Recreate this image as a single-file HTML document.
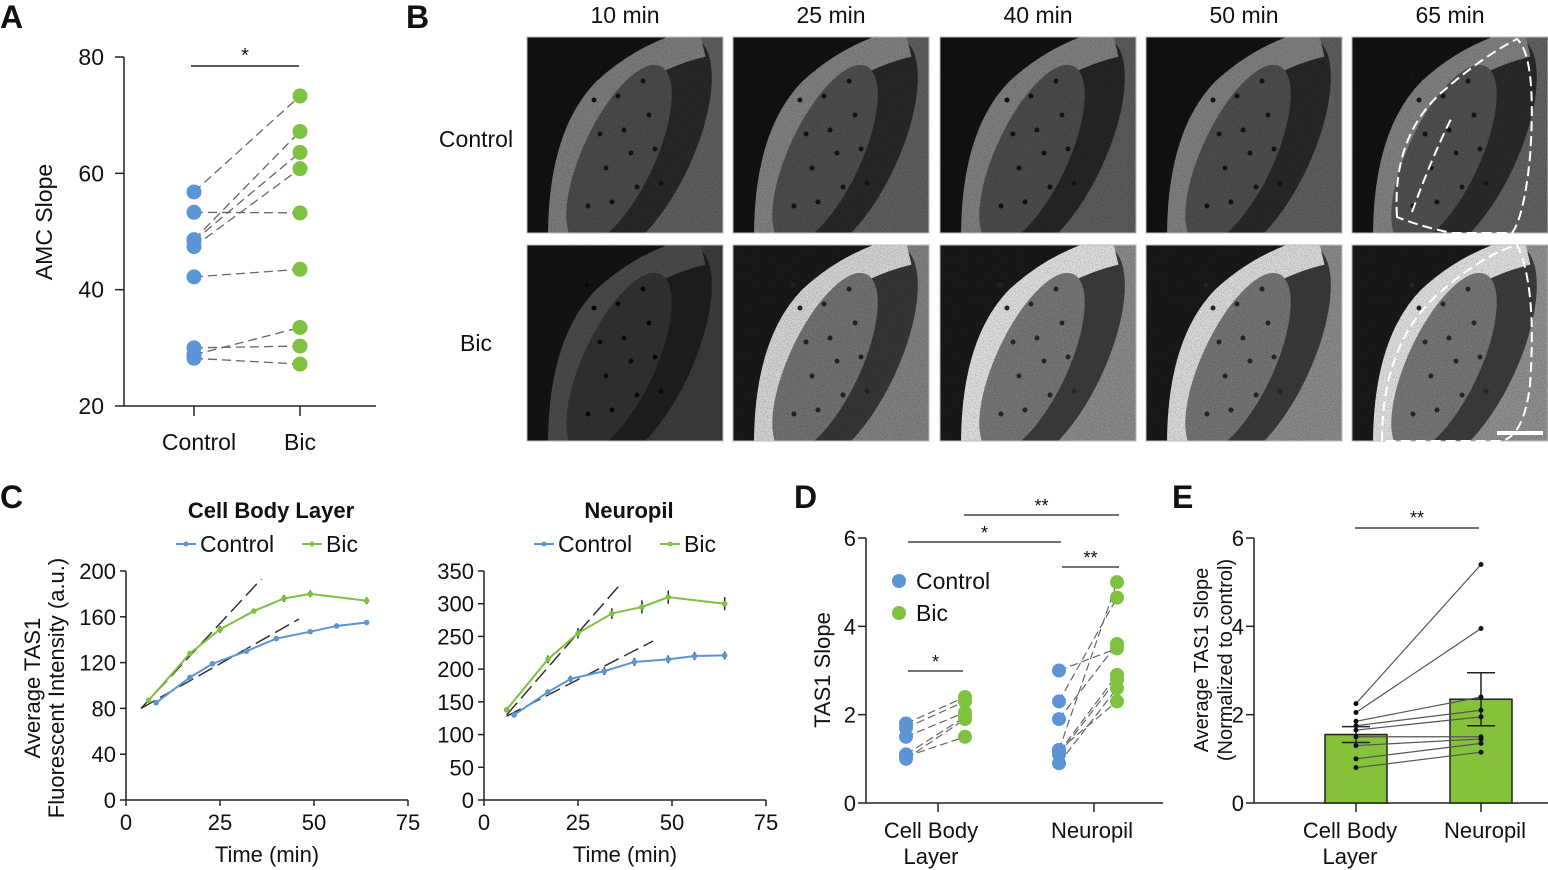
<!DOCTYPE html>
<html><head><meta charset="utf-8">
<style>
html,body{margin:0;padding:0;background:#fff;}
svg{display:block;font-family:"Liberation Sans",Arial,sans-serif;}
</style></head>
<body>
<svg id="fig" width="1548" height="870" viewBox="0 0 1548 870" xmlns="http://www.w3.org/2000/svg">
<defs>
<filter id="noise" x="0" y="0" width="100%" height="100%">
<feTurbulence type="fractalNoise" baseFrequency="0.9" numOctaves="2" seed="3"/>
<feColorMatrix type="matrix" values="0 0 0 0 0  0 0 0 0 0  0 0 0 0 0  0 0 0 0.9 -0.35"/>
</filter>
</defs>
<g font-weight="bold" font-size="32" fill="#111">
<text x="0" y="28">A</text>
<text x="406" y="28">B</text>
<text x="0" y="508">C</text>
<text x="794" y="508">D</text>
<text x="1172" y="508">E</text>
</g>
<g id="gA"></g>
<g id="gB"></g>
<g id="gC1"></g>
<g id="gC2"></g>
<g id="gD"></g>
<g id="gE"></g>
</svg>
<script>
// ---- data ----
const aControl = [56.8, 48.6, 48.4, 47.4, 53.3, 42.2, 28.8, 30.0, 28.2];
const aBic = [73.3, 67.2, 63.6, 60.8, 53.2, 43.5, 33.5, 30.3, 27.2];
const aTicks = [20, 40, 60, 80];

const cTimeCtl = [8, 17, 23, 32, 40, 49, 56, 64];
const cTimeBic = [6, 17, 25, 34, 42, 49, 64];
const c1Ctl = [85, 107, 119, 130, 141, 147, 152, 155];
const c1Bic = [87, 128, 149, 165, 176, 180, 174];
const c1Err = [2, 2, 3, 2, 3, 3, 3];
const c2Ctl = [130, 165, 185, 197, 211, 215, 220, 221];
const c2Bic = [138, 215, 255, 285, 295, 310, 300];
const c2Err = [4, 6, 8, 8, 10, 10, 10];
const c2CtlErr = [4, 4, 5, 6, 6, 6, 6, 6];
const c1Ticks = [0, 40, 80, 120, 160, 200];
const c2Ticks = [0, 50, 100, 150, 200, 250, 300, 350];
const xTicks = [0, 25, 50, 75];

const dCbCtl = [1.8, 1.7, 1.5, 1.1, 1.05, 1.0];
const dCbBic = [2.4, 2.3, 2.05, 1.95, 1.5, 1.9];
const dNpCtl = [3.0, 2.3, 1.9, 1.15, 1.1, 0.9, 1.2, 1.2];
const dNpBic = [3.5, 4.65, 3.6, 2.9, 2.8, 2.6, 5.0, 2.3];
const dTicks = [0, 2, 4, 6];

const eMeans = [1.55, 2.35];
const eSem = [0.18, 0.6];
const eCb = [2.25, 2.05, 1.85, 1.75, 1.65, 1.5, 1.3, 1.0, 0.8];
const eNp = [5.4, 3.95, 2.4, 2.1, 1.95, 1.5, 1.45, 1.35, 1.15];
const eCats = ["Cell Body", "Neuropil"];

const timeLabels = ["10 min", "25 min", "40 min", "50 min", "65 min"];

const BLUE = "#5b95d6", GREEN = "#7fc241";
const NS = "http://www.w3.org/2000/svg";
function mk(parent, tag, attrs, text) {
  const e = document.createElementNS(NS, tag);
  for (const k in attrs) e.setAttribute(k, attrs[k]);
  if (text !== undefined) e.textContent = text;
  parent.appendChild(e);
  return e;
}
function txt(p, x, y, s, size, anchor, name, extra) {
  const t = mk(p, "text", Object.assign({x: x, y: y, "font-size": size, "text-anchor": anchor || "middle", fill: "#111"}, extra || {}), s);
  
  
  return t;
}
function ln(p, x1, y1, x2, y2, stroke, w, dash, name) {
  const l = mk(p, "line", {x1: x1, y1: y1, x2: x2, y2: y2, stroke: stroke, "stroke-width": w});
  if (dash) l.setAttribute("stroke-dasharray", dash);
  
  
  return l;
}
function dot(p, x, y, r, fill, name) {
  const c = mk(p, "circle", {cx: x, cy: y, r: r, fill: fill});
  
  
  return c;
}

// ---- Panel A ----
(function () {
  const g = document.getElementById("gA");
  const y = v => 406 - (v - 20) * (349 / 60);
  const xC = 194, xB = 300;
  ln(g, 124, 57, 124, 406, "#222", 1.5, null, "a-y-axis");
  ln(g, 124, 406, 376, 406, "#222", 1.5, null, "a-x-axis");
  aTicks.forEach(t => {
    ln(g, 115, y(t), 124, y(t), "#222", 1.5, null, "a-y-tick");
    txt(g, 104, y(t) + 8, String(t), 23, "end", "a-y-tick-label");
  });
  ln(g, xC, 406, xC, 416, "#222", 1.5, null, "a-x-tick");
  ln(g, xB, 406, xB, 416, "#222", 1.5, null, "a-x-tick");
  txt(g, xC + 5, 450, "Control", 23, "middle", "a-x-label-control");
  txt(g, xB, 450, "Bic", 23, "middle", "a-x-label-bic");
  txt(g, 52, 222, "AMC Slope", 23, "middle", "a-y-axis-title", {transform: "rotate(-90 52 222)"});
  ln(g, 191, 66, 299, 66, "#222", 1.5, null, "a-significance-bar");
  txt(g, 245, 62, "*", 20, "middle", "a-significance-star");
  aControl.forEach((v, i) => ln(g, xC, y(v), xB, y(aBic[i]), "#666", 1.3, "9,5", "a-pair-line"));
  aControl.forEach(v => dot(g, xC, y(v), 7.5, BLUE, "a-control-point"));
  aBic.forEach(v => dot(g, xB, y(v), 7.5, GREEN, "a-bic-point"));
})();

// ---- Panel B ----
(function () {
  const g = document.getElementById("gB");
  const xs = [527, 733, 940, 1146, 1352];
  const ys = [37, 245];
  const W = 196, H = 196;
  const bright = [
    [[95, 40, 125, 75, 18], [95, 40, 130, 78, 18], [92, 38, 128, 76, 18], [95, 40, 128, 78, 18], [98, 42, 130, 80, 18]],
    [[60, 30, 75, 50, 20], [130, 55, 215, 115, 25], [140, 60, 225, 120, 25], [140, 58, 220, 118, 25], [145, 60, 225, 120, 25]]
  ];
  const gray = v => `rgb(${v},${v},${v})`;
  timeLabels.forEach((t, i) => txt(g, xs[i] + W / 2, 23, t, 23, "middle", "b-time-label"));
  txt(g, 476, 147, "Control", 23, "middle", "b-row-label-control");
  txt(g, 476, 351, "Bic", 23, "middle", "b-row-label-bic");
  ys.forEach((y0, r) => xs.forEach((x0, c) => {
    const [gr, gd, gb, gm, gk] = bright[r][c];
    const im = mk(g, "g", {transform: `translate(${x0},${y0})`});
    
    
    const cp = "clip" + r + c;
    const cl = mk(im, "clipPath", {id: cp});
    mk(cl, "rect", {x: 0, y: 0, width: W, height: H});
    const inner = mk(im, "g", {"clip-path": `url(#${cp})`});
    mk(inner, "rect", {x: 0, y: 0, width: W, height: H, fill: gray(gr)});
    mk(inner, "ellipse", {cx: 118, cy: 110, rx: 48, ry: 120, fill: gray(gd), transform: "rotate(25 118 110)"});
    mk(inner, "path", {d: "M0,0 L160,0 Q80,20 50,70 Q25,120 22,196 L0,196 Z", fill: gray(gk)});
    mk(inner, "path", {d: "M36,200 Q36,100 80,55 Q120,18 175,5", stroke: gray(gb), "stroke-width": 30, fill: "none"});
    mk(inner, "ellipse", {cx: 92, cy: 118, rx: 36, ry: 98, fill: gray(gm), transform: "rotate(25 92 118)"});
    for (let k = 0; k < 14; k++) {
      mk(inner, "circle", {cx: 60 + (k * 37) % 80, cy: 40 + (k * 53) % 140, r: 2.5, fill: gray(Math.max(0, gd - 20))});
    }
    mk(inner, "rect", {x: 0, y: 0, width: W, height: H, filter: "url(#noise)", opacity: 0.6});
    mk(im, "rect", {x: 0, y: 0, width: W, height: H, fill: "none", stroke: "#bbb", "stroke-width": 1});
    if (c === 4) {
      const o = mk(im, "path", {d: r === 0 ? "M45,180 Q40,100 90,55 Q130,20 165,2 Q185,20 178,120 Q172,180 160,196 L100,196 Q70,190 45,180 Z M60,175 Q80,120 100,80" : "M30,196 Q30,100 85,50 Q130,10 165,0 Q185,40 178,140 Q172,190 150,196 Z", stroke: "#fff", "stroke-width": 2, fill: "none", "stroke-dasharray": "10,5"});
      
      
    }
  }));
  const sb = mk(g, "rect", {x: 1497, y: 431, width: 46, height: 4, fill: "#fff"});
  
  
})();

// ---- Panel C ----
function lineChart(gid, title, x0, ctl, bic, bicErr, ctlErr, ticks, ymax, dashB, dashC) {
  const g = document.getElementById(gid);
  const xs = t => x0 + t * (282 / 75);
  const ys = v => 800 - v * ((800 - 571) / ymax);
  txt(g, x0 + 145, 518, title, 22, "middle", "c-title", {"font-weight": "bold"});
  ln(g, x0 + 50, 544, x0 + 70, 544, BLUE, 2, null, "c-legend-line-control");
  dot(g, x0 + 60, 544, 2.5, BLUE, "c-legend-marker-control");
  txt(g, x0 + 74, 552, "Control", 23, "start", "c-legend-control");
  ln(g, x0 + 176, 544, x0 + 196, 544, GREEN, 2, null, "c-legend-line-bic");
  dot(g, x0 + 186, 544, 2.5, GREEN, "c-legend-marker-bic");
  txt(g, x0 + 200, 552, "Bic", 23, "start", "c-legend-bic");
  ln(g, x0, ys(ymax), x0, 800, "#222", 1.5, null, "c-y-axis");
  ln(g, x0, 800, x0 + 282, 800, "#222", 1.5, null, "c-x-axis");
  ticks.forEach(t => {
    ln(g, x0 - 6, ys(t), x0, ys(t), "#222", 1.5, null, "c-y-tick");
    txt(g, x0 - 10, ys(t) + 8, String(t), 22, "end", "c-y-tick-label");
  });
  xTicks.forEach(t => {
    ln(g, xs(t), 800, xs(t), 806, "#222", 1.5, null, "c-x-tick");
    txt(g, xs(t), 830, String(t), 22, "middle", "c-x-tick-label");
  });
  txt(g, x0 + 141, 862, "Time (min)", 22, "middle", "c-x-axis-title");
  ln(g, xs(dashB[0]), ys(dashB[1]), xs(dashB[2]), ys(dashB[3]), "#333", 1.5, "16,6", "c-fit-line-bic");
  ln(g, xs(dashC[0]), ys(dashC[1]), xs(dashC[2]), ys(dashC[3]), "#333", 1.5, "16,6", "c-fit-line-control");
  const pc = mk(g, "polyline", {points: cTimeCtl.map((t, i) => xs(t) + "," + ys(ctl[i])).join(" "), fill: "none", stroke: BLUE, "stroke-width": 2});
  
  
  const pb = mk(g, "polyline", {points: cTimeBic.map((t, i) => xs(t) + "," + ys(bic[i])).join(" "), fill: "none", stroke: GREEN, "stroke-width": 2});
  
  
  cTimeCtl.forEach((t, i) => {
    const e = ctlErr ? ctlErr[i] : 1.5;
    ln(g, xs(t), ys(ctl[i] - e), xs(t), ys(ctl[i] + e), "#222", 1.5, null, "c-control-error");
    dot(g, xs(t), ys(ctl[i]), 2.8, BLUE, "c-control-point");
  });
  cTimeBic.forEach((t, i) => {
    ln(g, xs(t), ys(bic[i] - bicErr[i]), xs(t), ys(bic[i] + bicErr[i]), "#222", 1.5, null, "c-bic-error");
    dot(g, xs(t), ys(bic[i]), 2.8, GREEN, "c-bic-point");
  });
}
lineChart("gC1", "Cell Body Layer", 126, c1Ctl, c1Bic, c1Err, null, c1Ticks, 200, [4, 80, 36, 193], [4, 80, 46, 158]);
lineChart("gC2", "Neuropil", 484, c2Ctl, c2Bic, c2Err, c2CtlErr, c2Ticks, 350, [6, 130, 36, 328], [6, 128, 45, 243]);
(function () {
  const g = document.getElementById("gC1");
  txt(g, 40, 688, "Average TAS1", 22, "middle", "c-y-axis-title-line1", {transform: "rotate(-90 40 688)"});
  txt(g, 64, 688, "Fluorescent Intensity (a.u.)", 22, "middle", "c-y-axis-title-line2", {transform: "rotate(-90 64 688)"});
})();

// ---- Panel D ----
(function () {
  const g = document.getElementById("gD");
  const y = v => 803 - v * (265 / 6);
  const X = [906, 965, 1059, 1117];
  ln(g, 866, 538, 866, 803, "#222", 1.5, null, "d-y-axis");
  ln(g, 866, 803, 1163, 803, "#222", 1.5, null, "d-x-axis");
  dTicks.forEach(t => {
    ln(g, 858, y(t), 866, y(t), "#222", 1.5, null, "d-y-tick");
    txt(g, 856, y(t) + 8, String(t), 22, "end", "d-y-tick-label");
  });
  ln(g, 938, 803, 938, 812, "#222", 1.5, null, "d-x-tick");
  ln(g, 1094, 803, 1094, 812, "#222", 1.5, null, "d-x-tick");
  txt(g, 931, 838, "Cell Body", 22, "middle", "d-x-label-cell-body");
  txt(g, 931, 864, "Layer", 22, "middle", "d-x-label-layer");
  txt(g, 1092, 838, "Neuropil", 22, "middle", "d-x-label-neuropil");
  txt(g, 830, 670, "TAS1 Slope", 22, "middle", "d-y-axis-title", {transform: "rotate(-90 830 670)"});
  dot(g, 899, 581, 7, BLUE, "d-legend-marker-control");
  txt(g, 916, 589, "Control", 23, "start", "d-legend-control");
  dot(g, 899, 613, 7, GREEN, "d-legend-marker-bic");
  txt(g, 916, 621, "Bic", 23, "start", "d-legend-bic");
  dCbCtl.forEach((v, i) => ln(g, X[0], y(v), X[1], y(dCbBic[i]), "#666", 1.2, "8,4", "d-pair-line-cb"));
  dNpCtl.forEach((v, i) => ln(g, X[2], y(v), X[3], y(dNpBic[i]), "#666", 1.2, "8,4", "d-pair-line-np"));
  dCbCtl.forEach(v => dot(g, X[0], y(v), 7, BLUE, "d-cb-control-point"));
  dCbBic.forEach(v => dot(g, X[1], y(v), 7, GREEN, "d-cb-bic-point"));
  dNpCtl.forEach(v => dot(g, X[2], y(v), 7, BLUE, "d-np-control-point"));
  dNpBic.forEach(v => dot(g, X[3], y(v), 7, GREEN, "d-np-bic-point"));
  const bars = [[908, 963, 671, "*"], [908, 1061, 542, "*"], [964, 1119, 515, "**"], [1062, 1119, 567, "**"]];
  bars.forEach(b => {
    ln(g, b[0], b[2], b[1], b[2], "#444", 1.5, null, "d-significance-bar");
    txt(g, (b[0] + b[1]) / 2, b[2] - 3, b[3], 18, "middle", "d-significance-star");
  });
})();

// ---- Panel E ----
(function () {
  const g = document.getElementById("gE");
  const y = v => 803 - v * (265 / 6);
  const X = [1356, 1481];
  ln(g, 1254, 538, 1254, 803, "#222", 1.5, null, "e-y-axis");
  ln(g, 1254, 803, 1548, 803, "#222", 1.5, null, "e-x-axis");
  dTicks.forEach(t => {
    ln(g, 1246, y(t), 1254, y(t), "#222", 1.5, null, "e-y-tick");
    txt(g, 1244, y(t) + 8, String(t), 22, "end", "e-y-tick-label");
  });
  eMeans.forEach((m, i) => {
    const r = mk(g, "rect", {x: X[i] - 31, y: y(m), width: 62, height: 803 - y(m), fill: "#86c13a", stroke: "#222", "stroke-width": 1.5});
    
    
    ln(g, X[i], y(m - eSem[i]), X[i], y(m + eSem[i]), "#222", 1.5, null, "e-error-bar");
    ln(g, X[i] - 14, y(m + eSem[i]), X[i] + 14, y(m + eSem[i]), "#222", 1.5, null, "e-error-cap");
    ln(g, X[i] - 14, y(m - eSem[i]), X[i] + 14, y(m - eSem[i]), "#222", 1.5, null, "e-error-cap");
    ln(g, X[i], 803, X[i], 812, "#222", 1.5, null, "e-x-tick");
    txt(g, X[i] - (i ? -4 : 6), 838, eCats[i], 22, "middle", "e-x-label");
  });
  txt(g, 1350, 864, "Layer", 22, "middle", "e-x-label-layer");
  eCb.forEach((v, i) => ln(g, X[0], y(v), X[1], y(eNp[i]), "#555", 1.2, null, "e-pair-line"));
  eCb.forEach(v => dot(g, X[0], y(v), 2.5, "#111", "e-cb-point"));
  eNp.forEach(v => dot(g, X[1], y(v), 2.5, "#111", "e-np-point"));
  ln(g, 1355, 528, 1479, 528, "#444", 1.5, null, "e-significance-bar");
  txt(g, 1417, 524, "**", 18, "middle", "e-significance-star");
  txt(g, 1208, 660, "Average TAS1 Slope", 20, "middle", "e-y-axis-title-line1", {transform: "rotate(-90 1208 660)"});
  txt(g, 1232, 660, "(Normalized to control)", 20, "middle", "e-y-axis-title-line2", {transform: "rotate(-90 1232 660)"});
})();
</script>
</body></html>
